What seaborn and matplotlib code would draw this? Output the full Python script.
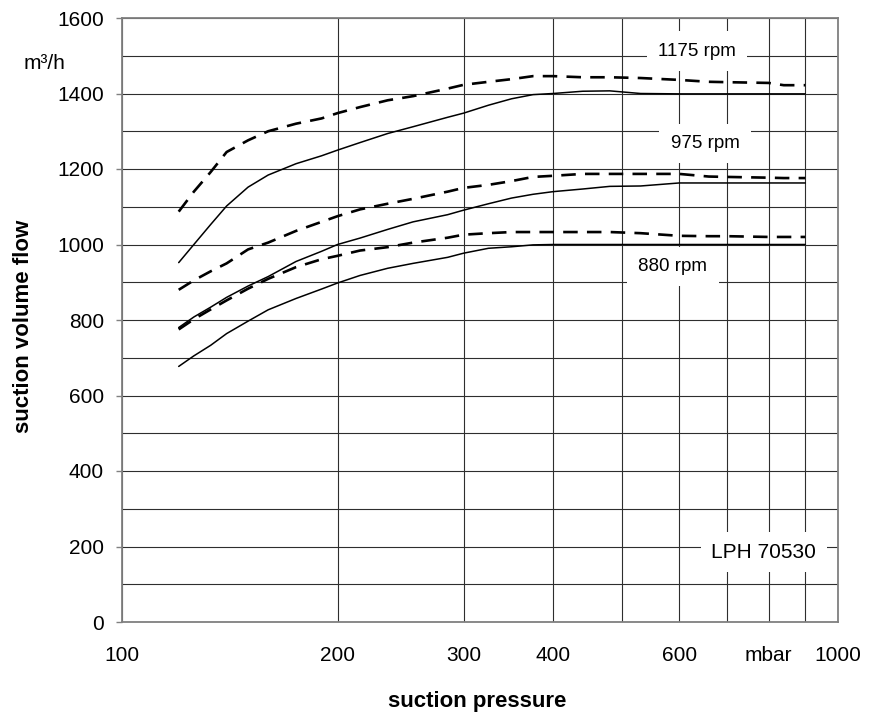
import numpy as np
import pandas as pd
import matplotlib
matplotlib.use("Agg")
import matplotlib.pyplot as plt
import seaborn as sns

# suction pressure in mbar (shared sample points for all curves)
pressure = [120, 126, 133, 140, 150, 160, 175, 190, 200, 215, 235, 255, 285, 300,
            325, 350, 375, 400, 440, 480, 530, 600, 660, 700, 800, 840, 900]

# suction volume flow in m3/h
flow_1175_dashed = [1087, 1140, 1192, 1245, 1276, 1300, 1320, 1334, 1348, 1364, 1382, 1393, 1413, 1423,
                    1431, 1438, 1446, 1446, 1443, 1443, 1441, 1436, 1431, 1430, 1428, 1422, 1422]
flow_1175_solid = [952, 1000, 1053, 1102, 1152, 1184, 1214, 1235, 1250, 1270, 1294, 1312, 1337, 1348,
                   1369, 1386, 1397, 1400, 1406, 1407, 1400, 1399, 1399, 1399, 1399, 1399, 1399]
flow_975_dashed = [880, 905, 929, 950, 987, 1005, 1036, 1060, 1075, 1093, 1108, 1121, 1140, 1150,
                   1158, 1168, 1179, 1182, 1187, 1187, 1187, 1187, 1180, 1179, 1177, 1176, 1176]
flow_975_solid = [780, 808, 834, 860, 890, 915, 955, 982, 1000, 1017, 1040, 1060, 1079, 1091,
                  1108, 1123, 1133, 1140, 1147, 1154, 1155, 1163, 1163, 1163, 1163, 1163, 1163]
flow_880_dashed = [775, 802, 828, 852, 883, 909, 940, 961, 970, 984, 993, 1005, 1018, 1026,
                   1030, 1033, 1033, 1033, 1033, 1033, 1030, 1023, 1022, 1022, 1020, 1020, 1020]
flow_880_solid = [677, 705, 733, 764, 797, 827, 857, 882, 898, 918, 937, 950, 966, 977,
                  990, 994, 999, 1000, 1000, 1000, 1000, 1000, 1000, 1000, 1000, 1000, 1000]

curve_names = ["1175 dashed", "1175 solid", "975 dashed", "975 solid", "880 dashed", "880 solid"]
curve_kinds = ["dashed", "solid", "dashed", "solid", "dashed", "solid"]
curve_values = [flow_1175_dashed, flow_1175_solid, flow_975_dashed,
                flow_975_solid, flow_880_dashed, flow_880_solid]

rpm_labels = ["1175 rpm", "975 rpm", "880 rpm"]
rpm_label_x = [635, 652, 588]
rpm_label_y = [1512, 1268, 942]

x_ticks = [100, 200, 300, 400, 600, 800, 1000]
x_tick_labels = ["100", "200", "300", "400", "600", "mbar", "1000"]

df = pd.concat([
    pd.DataFrame({"pressure": pressure, "flow": vals, "curve": name, "kind": kind})
    for name, kind, vals in zip(curve_names, curve_kinds, curve_values)
], ignore_index=True)

sns.set_theme(style="white")
plt.rcParams["font.family"] = ["Liberation Sans", "DejaVu Sans"]
plt.rcParams["text.color"] = "black"
plt.rcParams["axes.labelcolor"] = "black"
plt.rcParams["xtick.color"] = "black"
plt.rcParams["ytick.color"] = "black"

fig = plt.figure(figsize=(8.71, 7.17), dpi=100)
ax = fig.add_axes([122 / 871, 1 - 622 / 717, (838 - 122) / 871, (622 - 18) / 717])

sns.lineplot(data=df, x="pressure", y="flow", hue="curve", style="kind", size="kind",
             palette={n: "black" for n in curve_names},
             dashes={"solid": "", "dashed": (5.5, 3.5)},
             sizes={"solid": 1.1, "dashed": 1.9},
             estimator=None, sort=False, legend=False, ax=ax, zorder=3)

ax.set_xscale("log")
ax.set_xlim(100, 1000)
ax.set_ylim(0, 1600)

ax.xaxis.set_major_locator(matplotlib.ticker.FixedLocator(x_ticks))
ax.xaxis.set_major_formatter(matplotlib.ticker.FixedFormatter(x_tick_labels))
ax.xaxis.set_minor_locator(matplotlib.ticker.FixedLocator([500, 700, 900]))
ax.xaxis.set_minor_formatter(matplotlib.ticker.NullFormatter())
ax.set_yticks(np.arange(0, 1601, 200))
ax.set_yticks(np.arange(100, 1600, 200), minor=True)

ax.grid(True, which="both", color="#2e2e2e", linewidth=0.8)
ax.set_axisbelow(True)
ax.tick_params(axis="x", which="both", length=0, pad=17, labelsize=15, labelcolor="black")
ax.tick_params(axis="y", which="major", length=4, width=1, color="#808080",
               direction="out", left=True, pad=9, labelsize=15, labelcolor="black")
ax.tick_params(axis="y", which="minor", length=0)
for s in ax.spines.values():
    s.set_color("#808080")
    s.set_linewidth(1.3)

ax.set_xlabel("")
ax.set_ylabel("")

box = dict(facecolor="white", edgecolor="none", boxstyle="square,pad=0.6")
for lab, lx, ly in zip(rpm_labels, rpm_label_x, rpm_label_y):
    ax.text(lx, ly, lab, ha="center", va="center", fontsize=13.5, color="black", bbox=box, zorder=4)
ax.text(788, 185, "LPH 70530", ha="center", va="center", fontsize=15, color="black",
        bbox=dict(facecolor="white", edgecolor="none", boxstyle="square,pad=0.5"), zorder=4)

# unit label next to the 1500 gridline
ax.text(-0.108, 1480, "m³/h", transform=ax.get_yaxis_transform(), ha="center", va="center",
        fontsize=15, color="black")

fig.text(24 / 871, 1 - 326 / 717, "suction volume flow", rotation=90, ha="center", va="center",
         fontsize=16, fontweight="bold", color="black")
fig.text(477 / 871, 1 - 701 / 717, "suction pressure", ha="center", va="center",
         fontsize=16, fontweight="bold", color="black")

fig.savefig("out.png", dpi=100)
